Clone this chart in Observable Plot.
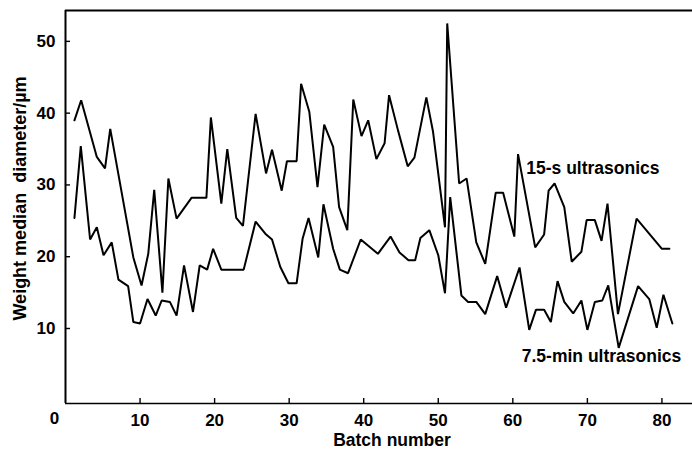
<!DOCTYPE html>
<html>
<head>
<meta charset="utf-8">
<script src="https://cdn.jsdelivr.net/npm/d3@7"></script>
<script src="https://cdn.jsdelivr.net/npm/@observablehq/plot@0.6"></script>
<style>
  html, body { margin: 0; padding: 0; background: #fff; }
  #chart svg { display: block; }
</style>
</head>
<body>
<div id="chart"></div>
<script>
// Weight median diameter per batch, after 15 s and after 7.5 min of ultrasonics
const batch15 = [1.2, 2.1, 4.2, 5.3, 6.0, 9.1, 10.2, 11.1, 11.9, 13.0, 13.8, 14.9, 16.9, 18.9, 19.5, 20.9,
  21.7, 22.9, 23.8, 25.5, 26.9, 27.7, 29.0, 29.7, 31.0, 31.6, 32.7, 33.8, 34.7, 35.9, 36.7, 37.8,
  38.6, 39.7, 40.6, 41.7, 42.8, 43.4, 44.6, 45.9, 46.8, 48.4, 49.3, 50.9, 51.2, 52.8, 53.8, 55.1,
  56.3, 57.7, 58.7, 60.2, 60.7, 63.0, 64.2, 64.8, 65.6, 66.9, 67.9, 69.2, 69.9, 71.0, 71.9, 72.7,
  74.1, 76.6, 80.0, 81.0];
const size15 = [39.0, 41.8, 33.9, 32.3, 37.8, 19.9, 16.0, 20.4, 29.3, 15.0, 30.9, 25.3, 28.2, 28.2, 39.4, 27.4,
  35.0, 25.4, 24.3, 39.9, 31.6, 34.9, 29.2, 33.3, 33.3, 44.1, 40.2, 29.7, 38.4, 35.3, 26.9, 23.7,
  41.9, 36.8, 39.0, 33.6, 35.8, 42.5, 37.6, 32.6, 33.8, 42.2, 37.4, 24.1, 52.5, 30.2, 30.9, 22.0,
  19.0, 28.9, 28.9, 22.8, 34.3, 21.3, 23.1, 29.2, 30.2, 26.9, 19.3, 20.7, 25.1, 25.1, 22.2, 27.4,
  12.0, 25.3, 21.1, 21.1];

const batch75 = [1.2, 2.05, 3.3, 4.2, 5.1, 6.2, 7.1, 8.4, 9.1, 10.0, 11.0, 12.1, 12.9, 14.0, 14.9, 15.9,
  17.1, 18.0, 19.0, 19.8, 20.9, 23.9, 25.5, 26.8, 27.7, 28.8, 29.9, 31.0, 31.8, 32.6, 33.9, 34.6,
  35.9, 36.8, 37.9, 39.6, 41.9, 43.6, 44.8, 46.0, 46.9, 47.6, 48.8, 50.0, 50.9, 51.6, 53.1, 54.0,
  55.1, 56.3, 57.9, 59.1, 60.9, 62.2, 63.1, 64.2, 65.1, 66.0, 66.9, 68.1, 69.2, 70.0, 71.0, 72.0,
  72.8, 74.2, 76.8, 78.3, 79.3, 80.2, 81.4];
const size75 = [25.4, 35.4, 22.4, 24.1, 20.2, 22.0, 16.8, 15.9, 10.9, 10.7, 14.1, 11.8, 13.9, 13.7, 11.8, 18.8,
  12.3, 18.8, 18.2, 21.1, 18.2, 18.2, 24.9, 23.2, 22.4, 18.6, 16.3, 16.3, 22.5, 25.4, 19.9, 27.3,
  21.1, 18.2, 17.7, 22.4, 20.4, 22.8, 20.6, 19.5, 19.5, 22.6, 23.7, 20.2, 14.9, 28.3, 14.6, 13.7,
  13.7, 12.0, 17.3, 12.9, 18.5, 9.8, 12.6, 12.6, 10.9, 16.6, 13.7, 12.1, 13.9, 9.8, 13.7, 13.9,
  16.0, 7.3, 15.9, 14.1, 10.1, 14.7, 10.7];

const seriesNames = ["15-s ultrasonics", "7.5-min ultrasonics"];
const xTicks = [10, 20, 30, 40, 50, 60, 70, 80];
const yTicks = [10, 20, 30, 40, 50];
const xDomain = [0, 84.1];
const yDomain = [-0.45, 54.3];

const rows15 = batch15.map((b, i) => ({batch: b, size: size15[i]}));
const rows75 = batch75.map((b, i) => ({batch: b, size: size75[i]}));

// where each series name sits, beside its own curve
const nameAnchors = [
  {name: seriesNames[0], batch: 61.8, size: 32.3},
  {name: seriesNames[1], batch: 61.2, size: 6.1}
];

const font = "'Liberation Sans', Arial, Helvetica, sans-serif";

const chart = Plot.plot({
  width: 692,
  height: 450,
  marginLeft: 65,
  marginRight: 0,
  marginTop: 10,
  marginBottom: 47,
  style: {fontFamily: font, fontWeight: "bold", color: "#000", background: "#fff", overflow: "visible"},
  x: {domain: xDomain},
  y: {domain: yDomain},
  marks: [
    // frame: top, left and bottom edges
    Plot.ruleY([yDomain[1]], {stroke: "#000", strokeWidth: 2}),
    Plot.ruleX([xDomain[0]], {stroke: "#000", strokeWidth: 2}),
    Plot.ruleY([yDomain[0]], {stroke: "#000", strokeWidth: 1.6}),
    Plot.axisX(xTicks, {tickSize: -5, tickPadding: 15, fontSize: 17, label: null, stroke: "#000", strokeWidth: 1.4}),
    Plot.axisY(yTicks, {tickSize: -5, tickPadding: 15, fontSize: 17, label: null, stroke: "#000", strokeWidth: 1.4}),
    // shared origin label, set just left of the corner
    Plot.text(["0"], {frameAnchor: "bottom-left", dx: -11, dy: 15, textAnchor: "middle", lineAnchor: "middle", fontSize: 17}),
    Plot.text(["Batch number"], {frameAnchor: "bottom", dx: 13, dy: 37, lineAnchor: "middle", fontSize: 17.5}),
    Plot.text(["Weight median  diameter/\u00b5m"], {frameAnchor: "left", rotate: -90, dx: -45.5, dy: -8.5,
      textAnchor: "middle", lineAnchor: "middle", fontSize: 18, letterSpacing: "0.4px"}),
    Plot.line(rows15, {x: "batch", y: "size", stroke: "#000", strokeWidth: 2, strokeLinejoin: "miter"}),
    Plot.line(rows75, {x: "batch", y: "size", stroke: "#000", strokeWidth: 2, strokeLinejoin: "miter"}),
    Plot.text(nameAnchors, {x: "batch", y: "size", text: "name", textAnchor: "start", lineAnchor: "middle",
      fontSize: 17.5})
  ]
});

document.getElementById("chart").appendChild(chart);
</script>
</body>
</html>
